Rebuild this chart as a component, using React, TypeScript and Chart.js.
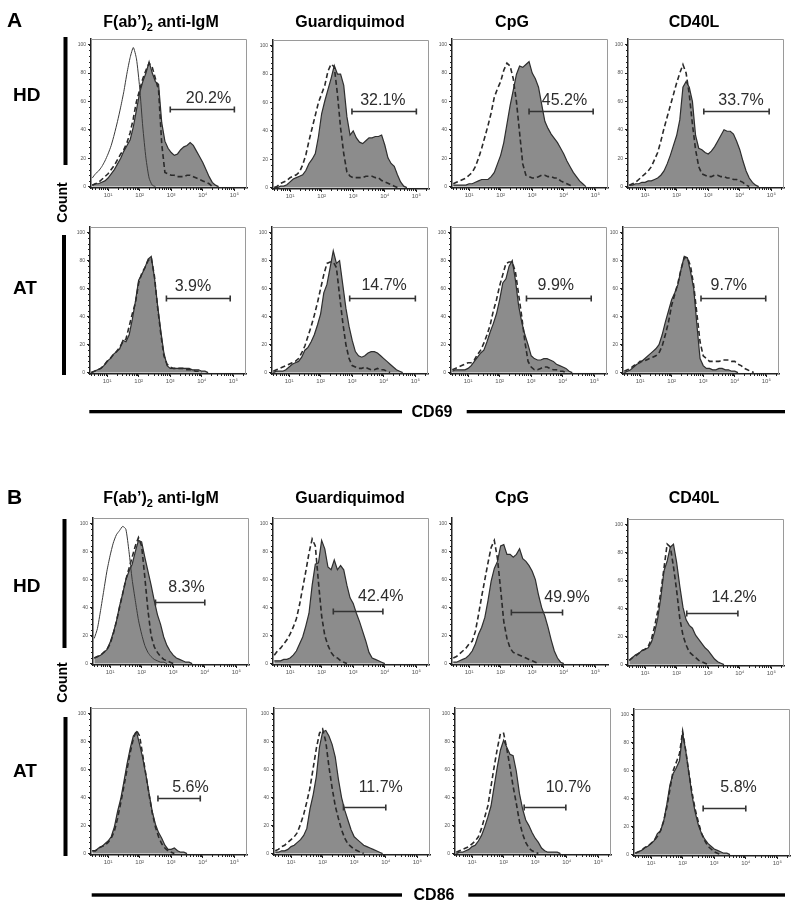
import React, { useEffect, useRef } from 'react';
import { Chart, registerables } from 'chart.js';

Chart.register(...registerables);

// log10 fluorescence grid (decades) shared by all histograms
const EXP = [0.5, 0.6, 0.7, 0.8, 0.9, 1.0, 1.1, 1.2, 1.3, 1.4, 1.5, 1.6, 1.7, 1.8, 1.9, 2.0, 2.1, 2.2, 2.3, 2.4, 2.5, 2.6, 2.7, 2.8, 2.9, 3.0, 3.1, 3.2, 3.3, 3.4, 3.5, 3.6, 3.7, 3.8, 3.9, 4.0, 4.1, 4.2, 4.3, 4.4, 4.5, 4.6, 4.7];

const COLUMNS = ['F(ab’)2 anti-IgM', 'Guardiquimod', 'CpG', 'CD40L'];
const ROWS = ['HD', 'AT'];
const MARKERS = ['CD69', 'CD86'];
const Y_TICKS = [0, 20, 40, 60, 80, 100];
const X_TICKS = [10, 100, 1000, 10000, 100000];

// ---- CD69 (A) ----
const CD69_HD_IGM_STIM = [1, 2, 2, 3, 4, 6, 9, 12, 16, 20, 25, 29, 33, 42, 54, 66, 74, 80, 88, 80, 74, 72, 45, 32, 27, 24, 22, 23, 26, 28, 29, 31, 29, 25, 21, 17, 12, 7, 3, 1, 0];
const CD69_HD_IGM_UNSTIM = [1, 2, 3, 5, 7, 9, 12, 15, 19, 23, 26, 31, 38, 48, 60, 68, 76, 82, 87, 84, 76, 68, 30, 10, 9, 8, 8, 7, 7, 7, 8, 8, 7, 6, 5, 4, 3, 2, 0];
const CD69_HD_IGM_ISO = [6, 9, 11, 14, 18, 23, 29, 37, 46, 56, 67, 80, 91, 98, 90, 70, 42, 20, 6, 1, 0];
const CD69_HD_GDQ_STIM = [0, 0, 1, 1, 2, 4, 6, 7, 8, 9, 12, 17, 20, 24, 36, 52, 61, 69, 77, 86, 80, 80, 72, 50, 37, 40, 35, 32, 31, 33, 35, 35, 36, 36, 37, 30, 21, 17, 15, 9, 4, 1, 0];
const CD69_HD_GDQ_UNSTIM = [0, 1, 3, 4, 5, 7, 8, 9, 11, 16, 23, 33, 42, 51, 60, 66, 72, 82, 87, 85, 66, 42, 24, 11, 8, 7, 7, 7, 7, 8, 8, 8, 7, 7, 5, 4, 3, 2, 1, 0];
const CD69_HD_CPG_STIM = [1, 1, 1, 1, 1, 2, 2, 3, 4, 5, 5, 5, 7, 10, 16, 22, 31, 44, 57, 68, 79, 85, 84, 86, 88, 80, 76, 70, 58, 46, 41, 37, 34, 31, 27, 23, 18, 14, 10, 7, 4, 2, 0];
const CD69_HD_CPG_UNSTIM = [2, 3, 4, 5, 6, 8, 10, 14, 20, 27, 35, 43, 52, 63, 69, 74, 82, 87, 85, 76, 60, 38, 16, 8, 7, 6, 6, 7, 8, 8, 7, 7, 6, 6, 4, 3, 2, 1, 0];
const CD69_HD_CD40L_STIM = [1, 1, 2, 2, 3, 3, 4, 4, 5, 6, 8, 11, 16, 22, 29, 36, 47, 70, 74, 70, 60, 36, 27, 26, 24, 23, 25, 28, 32, 36, 40, 39, 39, 37, 32, 26, 18, 11, 6, 3, 1, 0];
const CD69_HD_CD40L_UNSTIM = [1, 2, 3, 5, 7, 9, 11, 14, 19, 24, 32, 41, 49, 57, 65, 73, 80, 86, 80, 65, 44, 26, 14, 9, 8, 7, 7, 8, 8, 7, 7, 6, 6, 5, 5, 4, 3, 1, 0];
const CD69_AT_IGM_STIM = [0, 1, 2, 3, 5, 8, 10, 13, 15, 17, 23, 22, 27, 38, 51, 66, 70, 75, 81, 83, 68, 48, 30, 14, 5, 3, 3, 3, 3, 3, 3, 3, 2, 2, 2, 1, 1, 0];
const CD69_AT_IGM_UNSTIM = [0, 1, 2, 3, 5, 8, 10, 13, 15, 18, 22, 24, 33, 42, 50, 64, 71, 75, 80, 82, 69, 47, 28, 12, 6, 4, 3, 3, 3, 3, 2, 2, 2, 1, 1, 0];
const CD69_AT_GDQ_STIM = [0, 1, 1, 1, 2, 4, 6, 7, 8, 11, 16, 18, 22, 27, 34, 42, 57, 63, 75, 87, 78, 80, 63, 46, 33, 23, 15, 12, 11, 12, 14, 15, 15, 14, 12, 10, 8, 6, 4, 2, 1, 0];
const CD69_AT_GDQ_UNSTIM = [1, 2, 3, 4, 5, 6, 7, 8, 10, 14, 19, 26, 33, 41, 50, 60, 70, 78, 79, 79, 75, 55, 36, 20, 10, 5, 4, 3, 3, 4, 3, 2, 2, 3, 2, 2, 1, 0];
const CD69_AT_CPG_STIM = [1, 2, 2, 2, 2, 3, 5, 8, 11, 14, 16, 22, 29, 35, 42, 52, 64, 67, 76, 80, 66, 48, 36, 27, 20, 12, 10, 9, 9, 10, 10, 9, 8, 6, 5, 4, 3, 1, 0];
const CD69_AT_CPG_UNSTIM = [2, 3, 4, 5, 6, 7, 7, 9, 13, 16, 21, 27, 34, 44, 52, 62, 70, 78, 79, 79, 72, 56, 40, 22, 8, 4, 2, 2, 3, 4, 4, 3, 2, 2, 1, 1, 0];
const CD69_AT_CD40L_STIM = [0, 1, 2, 4, 6, 7, 9, 11, 13, 15, 17, 20, 27, 36, 44, 52, 57, 63, 74, 83, 82, 72, 60, 34, 10, 5, 3, 3, 2, 2, 3, 3, 2, 2, 1, 1, 0];
const CD69_AT_CD40L_UNSTIM = [1, 2, 3, 5, 6, 8, 8, 9, 10, 11, 12, 14, 19, 27, 36, 48, 56, 64, 74, 82, 82, 76, 62, 42, 22, 12, 10, 8, 8, 8, 8, 9, 9, 9, 8, 8, 6, 5, 3, 2, 1, 0];

// ---- CD86 (B) ----
const CD86_HD_IGM_STIM = [4, 5, 6, 8, 10, 15, 22, 30, 41, 50, 60, 66, 71, 80, 88, 87, 76, 66, 56, 45, 35, 28, 19, 13, 9, 6, 4, 3, 2, 1, 1, 0];
const CD86_HD_IGM_UNSTIM = [4, 5, 6, 8, 10, 14, 21, 30, 40, 50, 60, 68, 76, 84, 90, 84, 62, 38, 20, 12, 8, 5, 3, 2, 1, 0];
const CD86_HD_IGM_ISO = [18, 25, 38, 52, 66, 77, 86, 92, 95, 98, 96, 80, 60, 45, 31, 21, 13, 8, 5, 3, 2, 1, 1, 0];
const CD86_HD_GDQ_STIM = [2, 2, 2, 3, 3, 4, 6, 9, 14, 19, 27, 36, 56, 71, 72, 88, 82, 69, 67, 74, 67, 70, 67, 56, 47, 43, 36, 30, 23, 16, 8, 4, 3, 2, 1, 0];
const CD86_HD_GDQ_UNSTIM = [6, 9, 11, 14, 17, 21, 26, 32, 42, 54, 66, 79, 89, 84, 58, 34, 20, 13, 8, 5, 4, 2, 1, 0];
const CD86_HD_CPG_STIM = [1, 1, 2, 3, 4, 6, 9, 14, 21, 26, 33, 45, 59, 68, 73, 84, 85, 78, 78, 76, 78, 82, 75, 73, 70, 66, 60, 49, 40, 34, 26, 17, 9, 4, 1, 0];
const CD86_HD_CPG_UNSTIM = [4, 5, 7, 9, 11, 14, 16, 23, 35, 48, 60, 72, 83, 88, 75, 53, 30, 18, 11, 8, 7, 6, 5, 4, 3, 2, 1, 0];
const CD86_HD_CD40L_STIM = [3, 5, 7, 8, 10, 11, 12, 16, 23, 33, 48, 67, 74, 84, 86, 73, 56, 41, 32, 28, 26, 21, 18, 15, 12, 10, 7, 4, 2, 1, 0];
const CD86_HD_CD40L_UNSTIM = [3, 5, 6, 8, 10, 11, 13, 18, 27, 38, 52, 69, 86, 84, 70, 53, 33, 21, 14, 9, 7, 5, 3, 2, 1, 0];
const CD86_AT_IGM_STIM = [2, 2, 4, 5, 7, 9, 12, 19, 30, 39, 51, 64, 75, 84, 87, 78, 68, 56, 43, 30, 21, 15, 11, 6, 3, 3, 4, 2, 1, 1, 0];
const CD86_AT_IGM_UNSTIM = [2, 2, 4, 5, 6, 8, 11, 16, 25, 36, 48, 60, 72, 82, 88, 84, 70, 56, 42, 29, 19, 12, 7, 4, 2, 1, 0];
const CD86_AT_GDQ_STIM = [1, 1, 2, 2, 3, 5, 6, 8, 10, 13, 18, 32, 42, 55, 76, 87, 88, 84, 78, 69, 53, 40, 31, 24, 17, 12, 10, 8, 6, 5, 4, 3, 2, 1, 0];
const CD86_AT_GDQ_UNSTIM = [2, 3, 5, 6, 8, 10, 12, 15, 21, 28, 37, 47, 61, 75, 86, 89, 80, 62, 47, 34, 25, 17, 11, 7, 5, 3, 2, 1, 0];
const CD86_AT_CPG_STIM = [0, 1, 1, 2, 3, 5, 6, 9, 13, 19, 26, 34, 48, 62, 74, 81, 76, 71, 70, 59, 43, 32, 24, 20, 15, 11, 8, 4, 2, 1, 1, 1, 1, 0];
const CD86_AT_CPG_UNSTIM = [1, 2, 3, 4, 5, 7, 9, 12, 18, 26, 34, 48, 62, 75, 86, 86, 75, 62, 48, 36, 23, 14, 8, 4, 2, 1, 0];
const CD86_AT_CD40L_STIM = [1, 2, 3, 5, 6, 8, 10, 15, 17, 24, 36, 50, 58, 62, 67, 87, 74, 58, 42, 30, 21, 15, 11, 8, 6, 4, 3, 2, 1, 1, 0];
const CD86_AT_CD40L_UNSTIM = [1, 2, 3, 5, 6, 8, 10, 13, 17, 24, 34, 47, 60, 66, 72, 88, 74, 58, 44, 32, 23, 15, 10, 6, 4, 2, 1, 0];

// gates (log10 bounds), gate height, percentage, and label anchor (log10 x, y)
const GATE_LO_LOG = [2.97, 2.96, 2.9, 2.86, 2.88, 2.92, 2.85, 2.93, 2.44, 2.37, 2.34, 2.32, 2.58, 2.66, 2.65, 2.65];
const GATE_HI_LOG = [5.0, 5.0, 4.93, 4.93, 4.9, 5.0, 4.9, 4.98, 4.0, 3.94, 3.96, 3.94, 3.92, 4.0, 3.97, 4.0];
const GATE_Y = [54.5, 54, 53, 53, 53.3, 53, 53.3, 53.3, 43.7, 37.5, 37, 36.9, 40, 33, 33.3, 33];
const GATE_PCT = ['20.2%', '32.1%', '45.2%', '33.7%', '3.9%', '14.7%', '9.9%', '9.7%', '8.3%', '42.4%', '49.9%', '14.2%', '5.6%', '11.7%', '10.7%', '5.8%'];
const LABEL_X_LOG = [4.18, 3.94, 4.02, 4.04, 3.72, 4.01, 3.78, 3.81, 3.42, 3.87, 4.1, 3.82, 3.61, 3.84, 4.05, 3.77];
const LABEL_Y = [58.7, 58, 57.8, 57.8, 58, 59, 59, 59, 51.3, 44.5, 44, 44.5, 44, 44.3, 44.3, 44.9];

const SERIES = [
  [CD69_HD_IGM_STIM, CD69_HD_IGM_UNSTIM, CD69_HD_IGM_ISO],
  [CD69_HD_GDQ_STIM, CD69_HD_GDQ_UNSTIM, null],
  [CD69_HD_CPG_STIM, CD69_HD_CPG_UNSTIM, null],
  [CD69_HD_CD40L_STIM, CD69_HD_CD40L_UNSTIM, null],
  [CD69_AT_IGM_STIM, CD69_AT_IGM_UNSTIM, null],
  [CD69_AT_GDQ_STIM, CD69_AT_GDQ_UNSTIM, null],
  [CD69_AT_CPG_STIM, CD69_AT_CPG_UNSTIM, null],
  [CD69_AT_CD40L_STIM, CD69_AT_CD40L_UNSTIM, null],
  [CD86_HD_IGM_STIM, CD86_HD_IGM_UNSTIM, CD86_HD_IGM_ISO],
  [CD86_HD_GDQ_STIM, CD86_HD_GDQ_UNSTIM, null],
  [CD86_HD_CPG_STIM, CD86_HD_CPG_UNSTIM, null],
  [CD86_HD_CD40L_STIM, CD86_HD_CD40L_UNSTIM, null],
  [CD86_AT_IGM_STIM, CD86_AT_IGM_UNSTIM, null],
  [CD86_AT_GDQ_STIM, CD86_AT_GDQ_UNSTIM, null],
  [CD86_AT_CPG_STIM, CD86_AT_CPG_UNSTIM, null],
  [CD86_AT_CD40L_STIM, CD86_AT_CD40L_UNSTIM, null],
];

// ---- layout (pixels) ----
const BOX_LEFT = [91, 273, 452, 628, 90, 272, 451, 623, 93, 273, 452, 628, 91, 274, 455, 634];
const BOX_TOP = [38, 39, 38, 38, 226, 226, 226, 226, 517, 517, 517, 518, 707, 707, 707, 708];
const BOX_H = [150, 148, 148, 148];
const BOX_W = 156;
const PAD_L = 16, PAD_R = 4, PAD_T = 4, PAD_B = 14;
const NO_BOX = [10];

const FONT = '"Liberation Sans", Arial, Helvetica, sans-serif';
const SUP: Record<number, string> = { 1: '¹', 2: '²', 3: '³', 4: '⁴', 5: '⁵' };
const X_MIN = Math.pow(10, 0.46);
const X_MAX = Math.pow(10, 5.4);

function toPoints(arr: number[]) {
  return arr.map((v, i) => ({ x: Math.pow(10, EXP[i]), y: v }));
}

function Panel({ idx }: { idx: number }) {
  const ref = useRef<HTMLCanvasElement | null>(null);
  const h = BOX_H[Math.floor(idx / 4)];
  const cw = PAD_L + BOX_W + PAD_R;
  const chh = PAD_T + h + PAD_B;

  useEffect(() => {
    const [stim, ctrl, iso] = SERIES[idx];
    const datasets: any[] = [
      {
        data: toPoints(stim as number[]),
        borderColor: '#2e2e2e',
        borderWidth: 1.2,
        backgroundColor: '#8c8c8c',
        fill: 'origin',
        pointRadius: 0,
        tension: 0,
        order: 3,
      },
      {
        data: toPoints(ctrl as number[]),
        borderColor: '#2a2a2a',
        borderWidth: 1.6,
        borderDash: [5, 3],
        fill: false,
        pointRadius: 0,
        tension: 0,
        order: 2,
      },
    ];
    if (iso) {
      datasets.push({
        data: toPoints(iso as number[]),
        borderColor: '#3a3a3a',
        borderWidth: 1,
        fill: false,
        pointRadius: 0,
        tension: 0.2,
        order: 1,
      });
    }
    const decor = {
      id: 'decor' + idx,
      afterDraw(chart: any) {
        const { ctx, chartArea: ca, scales } = chart;
        const x = scales.x, y = scales.y;
        ctx.save();
        if (!NO_BOX.includes(idx)) {
          ctx.strokeStyle = '#9a9a9a';
          ctx.lineWidth = 1;
          ctx.beginPath();
          ctx.moveTo(ca.left, ca.top + 0.5);
          ctx.lineTo(ca.right - 0.5, ca.top + 0.5);
          ctx.lineTo(ca.right - 0.5, ca.bottom);
          ctx.stroke();
        }
        ctx.strokeStyle = '#222';
        ctx.lineWidth = 1;
        ctx.beginPath();
        for (let v = 0; v <= 100; v += 4) {
          const py = Math.round(y.getPixelForValue(v)) + 0.5;
          ctx.moveTo(ca.left - 2, py);
          ctx.lineTo(ca.left, py);
        }
        for (let k = 0; k <= 5; k++) {
          for (let m = 2; m <= 9; m++) {
            const v = m * Math.pow(10, k);
            if (v < X_MIN || v > X_MAX) continue;
            const px = Math.round(x.getPixelForValue(v)) + 0.5;
            ctx.moveTo(px, ca.bottom);
            ctx.lineTo(px, ca.bottom + 2);
          }
        }
        ctx.stroke();
        // gate
        const x1 = x.getPixelForValue(Math.pow(10, GATE_LO_LOG[idx]));
        const x2 = x.getPixelForValue(Math.pow(10, GATE_HI_LOG[idx]));
        const gy = Math.round(y.getPixelForValue(GATE_Y[idx])) + 0.5;
        ctx.strokeStyle = '#333';
        ctx.lineWidth = 1.6;
        ctx.beginPath();
        ctx.moveTo(x1, gy);
        ctx.lineTo(x2, gy);
        ctx.moveTo(x1, gy - 3);
        ctx.lineTo(x1, gy + 3);
        ctx.moveTo(x2, gy - 3);
        ctx.lineTo(x2, gy + 3);
        ctx.stroke();
        ctx.fillStyle = '#2c2c2c';
        ctx.font = '16px ' + FONT;
        ctx.textAlign = 'center';
        ctx.textBaseline = 'alphabetic';
        ctx.fillText(GATE_PCT[idx], x.getPixelForValue(Math.pow(10, LABEL_X_LOG[idx])), y.getPixelForValue(LABEL_Y[idx]));
        ctx.restore();
      },
    };
    const chart = new Chart(ref.current as HTMLCanvasElement, {
      type: 'line',
      data: { datasets },
      options: {
        animation: false,
        responsive: false,
        maintainAspectRatio: false,
        devicePixelRatio: 1,
        layout: { padding: { top: PAD_T, right: PAD_R, left: 0, bottom: 0 } },
        plugins: { legend: { display: false }, tooltip: { enabled: false } },
        scales: {
          x: {
            type: 'logarithmic',
            min: X_MIN,
            max: X_MAX,
            afterBuildTicks: (s: any) => {
              s.ticks = X_TICKS.map((v) => ({ value: v }));
            },
            afterFit: (s: any) => {
              s.height = PAD_B;
            },
            ticks: {
              autoSkip: false,
              maxRotation: 0,
              padding: 1,
              font: { size: 6, family: FONT },
              color: '#555',
              callback: (v: any) => '10' + SUP[Math.round(Math.log10(Number(v)))],
            },
            grid: { drawOnChartArea: false, drawTicks: true, tickLength: 3, color: '#222', tickColor: '#222' },
            border: { display: true, color: '#222', width: 1.5 },
          },
          y: {
            type: 'linear',
            min: -1,
            max: 104,
            afterBuildTicks: (s: any) => {
              s.ticks = Y_TICKS.map((v) => ({ value: v }));
            },
            afterFit: (s: any) => {
              s.width = PAD_L;
            },
            ticks: {
              padding: 2,
              font: { size: 5, family: FONT },
              color: '#555',
              callback: (v: any) => String(v),
            },
            grid: { drawOnChartArea: false, drawTicks: true, tickLength: 3, color: '#222', tickColor: '#222' },
            border: { display: true, color: '#222', width: 1.5 },
          },
        },
      } as any,
      plugins: [decor],
    });
    return () => chart.destroy();
  }, [idx]);

  return (
    <canvas
      ref={ref}
      width={cw}
      height={chh}
      style={{ position: 'absolute', left: BOX_LEFT[idx] - PAD_L, top: BOX_TOP[idx] - PAD_T, width: cw, height: chh }}
    />
  );
}

const TITLE_X = [161, 350, 512, 694];
const SECTION_Y = [26.7, 502.7];

export default function App() {
  return (
    <div style={{ position: 'absolute', left: 0, top: 0, width: 800, height: 906, background: '#fff', overflow: 'hidden' }}>
      {SERIES.map((_, i) => (
        <Panel key={i} idx={i} />
      ))}
      <svg
        width={800}
        height={906}
        style={{ position: 'absolute', left: 0, top: 0, pointerEvents: 'none' }}
        fontFamily={FONT}
      >
        {/* section letters */}
        <text x={7} y={27} fontSize={21} fontWeight="bold">A</text>
        <text x={7} y={504} fontSize={21} fontWeight="bold">B</text>
        {/* column titles */}
        {SECTION_Y.map((sy, s) =>
          COLUMNS.map((c, ci) =>
            ci === 0 ? (
              <text key={s + '-' + ci} x={TITLE_X[ci]} y={sy} fontSize={16} fontWeight="bold" textAnchor="middle" style={{ whiteSpace: 'pre' }}>
                {'F(ab’)'}
                <tspan fontSize={11} dy={4}>2</tspan>
                <tspan dy={-4}>{' anti-IgM'}</tspan>
              </text>
            ) : (
              <text key={s + '-' + ci} x={TITLE_X[ci]} y={sy} fontSize={16} fontWeight="bold" textAnchor="middle">
                {c}
              </text>
            )
          )
        )}
        {/* row labels */}
        <text x={13} y={100.7} fontSize={19} fontWeight="bold">{ROWS[0]}</text>
        <text x={13} y={294.3} fontSize={19} fontWeight="bold">{ROWS[1]}</text>
        <text x={13} y={591.7} fontSize={19} fontWeight="bold">{ROWS[0]}</text>
        <text x={13} y={776.7} fontSize={19} fontWeight="bold">{ROWS[1]}</text>
        {/* count bars */}
        <rect x={63.5} y={37} width={4} height={128} fill="#000" />
        <rect x={62} y={235} width={4} height={140} fill="#000" />
        <rect x={62.5} y={519} width={4} height={129} fill="#000" />
        <rect x={63.5} y={717} width={4} height={139} fill="#000" />
        <text transform="translate(66.5,202.5) rotate(-90)" fontSize={14} fontWeight="bold" textAnchor="middle">Count</text>
        <text transform="translate(66.5,682.5) rotate(-90)" fontSize={14} fontWeight="bold" textAnchor="middle">Count</text>
        {/* marker axis bars */}
        <rect x={89.3} y={410} width={312.7} height={3.3} fill="#000" />
        <rect x={466.7} y={410} width={318.3} height={3.3} fill="#000" />
        <text x={432} y={417} fontSize={16} fontWeight="bold" textAnchor="middle">{MARKERS[0]}</text>
        <rect x={91.7} y={893.3} width={310.3} height={3.4} fill="#000" />
        <rect x={468.3} y={893.3} width={316.7} height={3.4} fill="#000" />
        <text x={434} y={900} fontSize={16} fontWeight="bold" textAnchor="middle">{MARKERS[1]}</text>
      </svg>
    </div>
  );
}
